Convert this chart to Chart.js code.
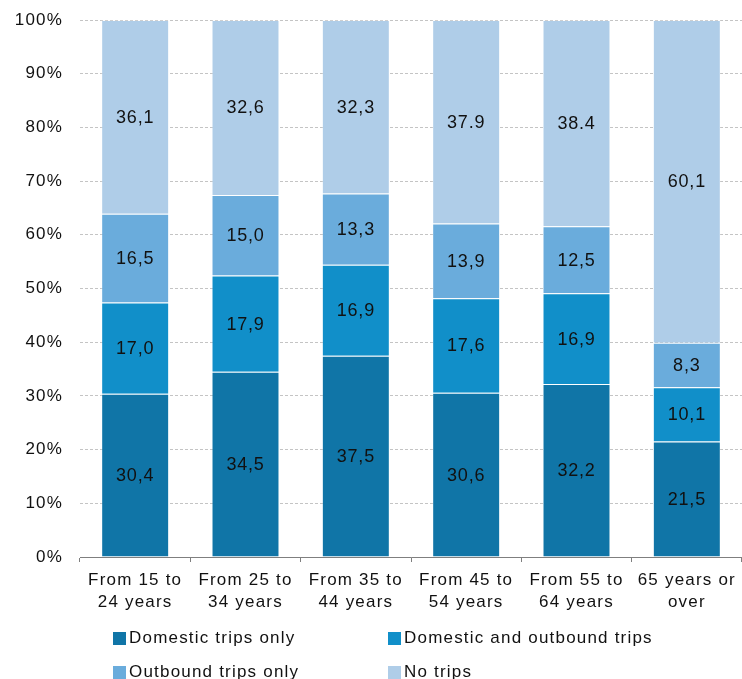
<!DOCTYPE html>
<html lang="en">
<head>
    <meta charset="UTF-8">
    <title>Trips by age group</title>
    <script src="https://cdn.jsdelivr.net/npm/chart.js"></script>
    <style>
        html, body { margin: 0; padding: 0; background: #fff; }
        .wrap { position: relative; width: 742px; height: 679px; }
        canvas { display: block; }
        .legend {
            position: absolute; left: 113px; top: 629px;
            display: grid; grid-template-columns: 275px 300px; row-gap: 16px;
            font-family: "Liberation Sans", Arial, sans-serif; font-size: 17px;
            letter-spacing: 1.2px; color: #111;
        }
        .legend span { display: flex; align-items: center; white-space: nowrap; line-height: 18px; }
        .legend i { display: inline-block; width: 13px; height: 13px; margin-right: 3px; }
    </style>
</head>
<body>
<div class="wrap">
    <canvas id="chart" width="742" height="679"></canvas>
    <div class="legend" id="legend"></div>
</div>
<script>
    const ageGroups = [
        ['From 15 to', '24 years'],
        ['From 25 to', '34 years'],
        ['From 35 to', '44 years'],
        ['From 45 to', '54 years'],
        ['From 55 to', '64 years'],
        ['65 years or', 'over']
    ];
    const domesticOnly = [30.4, 34.5, 37.5, 30.6, 32.2, 21.5];
    const domesticAndOutbound = [17.0, 17.9, 16.9, 17.6, 16.9, 10.1];
    const outboundOnly = [16.5, 15.0, 13.3, 13.9, 12.5, 8.3];
    const noTrips = [36.1, 32.6, 32.3, 37.9, 38.4, 60.1];
    // the source table mixes decimal separators in the last series
    const noTripsSep = [',', ',', ',', '.', '.', ','];
    const yTicks = [0, 10, 20, 30, 40, 50, 60, 70, 80, 90, 100];

    const FONT = '"Liberation Sans", Arial, sans-serif';

    const series = [
        { label: 'Domestic trips only', data: domesticOnly, color: '#1075a7' },
        { label: 'Domestic and outbound trips', data: domesticAndOutbound, color: '#118fc9' },
        { label: 'Outbound trips only', data: outboundOnly, color: '#6aacdc' },
        { label: 'No trips', data: noTrips, color: '#afcde8' }
    ];

    const fmt = (v, ds, i) => {
        const sep = ds === 3 ? noTripsSep[i] : ',';
        return v.toFixed(1).replace('.', sep);
    };

    // value text centred in each stacked segment
    const segmentLabels = {
        id: 'segmentLabels',
        beforeDraw(chart) {
            chart.ctx.letterSpacing = '1.2px';
        },
        afterDatasetsDraw(chart) {
            const ctx = chart.ctx;
            ctx.save();
            ctx.font = '18px ' + FONT;
            ctx.letterSpacing = '0.8px';
            ctx.fillStyle = '#111';
            ctx.textAlign = 'center';
            ctx.textBaseline = 'middle';
            chart.data.datasets.forEach((ds, d) => {
                chart.getDatasetMeta(d).data.forEach((bar, i) => {
                    ctx.fillText(fmt(ds.data[i], d, i), bar.x, (bar.y + bar.base) / 2 + 1);
                });
            });
            ctx.restore();
        }
    };

    const chart = new Chart(document.getElementById('chart'), {
        type: 'bar',
        data: {
            labels: ageGroups,
            datasets: series.map(s => ({
                label: s.label,
                data: s.data,
                backgroundColor: s.color,
                borderColor: 'rgba(255,255,255,0.2)',
                borderWidth: 1,
                barPercentage: 1,
                categoryPercentage: 0.616
            }))
        },
        options: {
            responsive: false,
            animation: false,
            layout: { padding: { top: 20, right: 0, left: 0, bottom: 0 } },
            plugins: { legend: { display: false }, tooltip: { enabled: false } },
            scales: {
                x: {
                    stacked: true,
                    grid: {
                        offset: true, drawOnChartArea: false, drawTicks: true,
                        tickLength: 5, color: '#7f7f7f'
                    },
                    border: { color: '#7f7f7f', width: 1 },
                    ticks: {
                        color: '#111', padding: 8, maxRotation: 0,
                        font: { family: FONT, size: 17, lineHeight: 1.25 }
                    },
                    afterFit(scale) { scale.height = 122; }
                },
                y: {
                    stacked: true,
                    min: 0, max: 100,
                    afterBuildTicks(scale) { scale.ticks = yTicks.map(v => ({ value: v })); },
                    grid: { color: '#c4c4c4', drawTicks: false },
                    border: { display: false, dash: [3, 2] },
                    ticks: {
                        color: '#111', padding: 17,
                        font: { family: FONT, size: 17 },
                        callback: v => v + '%'
                    },
                    afterFit(scale) {
                        scale.width = 80;
                        scale.paddingTop = 0;
                        scale.paddingBottom = 0;
                    }
                }
            }
        },
        plugins: [segmentLabels]
    });

    document.getElementById('legend').innerHTML = series.map(s =>
        `<span><i style="background:${s.color}"></i>${s.label}</span>`
    ).join('');
</script>
</body>
</html>
